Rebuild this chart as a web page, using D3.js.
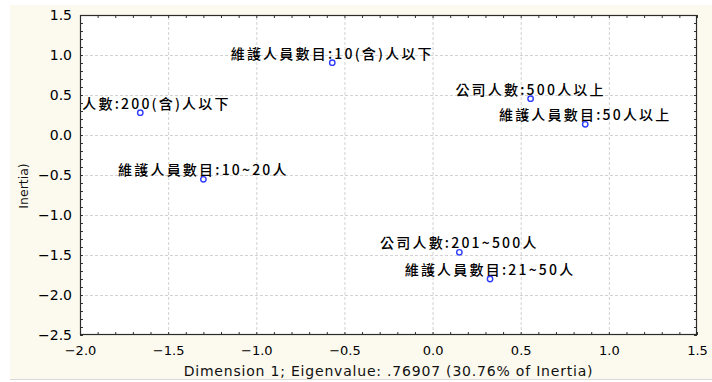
<!DOCTYPE html>
<html>
<head>
<meta charset="utf-8">
<script src="https://cdn.jsdelivr.net/npm/d3@7"></script>
<style>
  html, body { margin: 0; padding: 0; background: #ffffff; }
  svg { display: block; }
</style>
</head>
<body>
<svg id="chart" width="712" height="382"></svg>
<script>
// Correspondence analysis: category coordinates on dimensions 1 and 2
const categories = [
  "維護人員數目:10(含)人以下",
  "公司人數:200(含)人以下",
  "維護人員數目:10~20人",
  "公司人數:500人以上",
  "維護人員數目:50人以上",
  "公司人數:201~500人",
  "維護人員數目:21~50人"
];
const dim1 = [-0.569, -1.658, -1.300, 0.556, 0.866, 0.152, 0.326];
const dim2 = [0.904, 0.279, -0.554, 0.454, 0.134, -1.466, -1.800];

const xTicks = [-2.0, -1.5, -1.0, -0.5, 0.0, 0.5, 1.0, 1.5];
const yTicks = [1.5, 1.0, 0.5, 0.0, -0.5, -1.0, -1.5, -2.0, -2.5];
const xTitle = "Dimension 1; Eigenvalue: .76907 (30.76% of Inertia)";
const yTitle = "Inertia)";

const svg = d3.select("#chart");
const W = 712, H = 382;
const plot = { left: 80, top: 15, right: 697, bottom: 335 };

// page background panel
svg.append("rect")
  .attr("x", 10).attr("y", 5).attr("width", W - 10).attr("height", 374)
  .attr("fill", "#fcf9ee");
svg.append("line")
  .attr("x1", 10).attr("x2", W).attr("y1", 379.5).attr("y2", 379.5)
  .attr("stroke", "#d9d9d9");

const x = d3.scaleLinear().domain([-2.0, 1.5]).range([plot.left, plot.right]);
const y = d3.scaleLinear().domain([-2.5, 1.5]).range([plot.bottom, plot.top]);
const pw = plot.right - plot.left, ph = plot.bottom - plot.top;

svg.append("rect")
  .attr("x", plot.left).attr("y", plot.top).attr("width", pw).attr("height", ph)
  .attr("fill", "#ffffff");

// dashed grid at the major ticks
const gridX = svg.append("g")
  .attr("transform", `translate(0,${plot.bottom})`)
  .call(d3.axisBottom(x).tickValues(xTicks.slice(1, -1)).tickSize(-ph).tickFormat(""));
const gridY = svg.append("g")
  .attr("transform", `translate(${plot.left},0)`)
  .call(d3.axisLeft(y).tickValues(yTicks.slice(1, -1)).tickSize(-pw).tickFormat(""));
[gridX, gridY].forEach(g => {
  g.select(".domain").remove();
  g.selectAll(".tick line")
    .attr("stroke", "#d2d2d2").attr("stroke-width", 1).attr("stroke-dasharray", "3,2");
});

// inward minor ticks on all four sides (every 0.1)
const xMinor = d3.range(-20, 16).map(v => v / 10);
const yMinor = d3.range(-25, 16).map(v => v / 10);
const tickStyle = g => {
  g.select(".domain").remove();
  g.selectAll(".tick line").attr("stroke", "#333").attr("stroke-width", 1);
};
svg.append("g").attr("transform", `translate(0,${plot.bottom})`)
  .call(d3.axisBottom(x).tickValues(xMinor).tickSize(-3).tickFormat("")).call(tickStyle);
svg.append("g").attr("transform", `translate(0,${plot.top})`)
  .call(d3.axisTop(x).tickValues(xMinor).tickSize(-3).tickFormat("")).call(tickStyle);
svg.append("g").attr("transform", `translate(${plot.left},0)`)
  .call(d3.axisLeft(y).tickValues(yMinor).tickSize(-3).tickFormat("")).call(tickStyle);
svg.append("g").attr("transform", `translate(${plot.right},0)`)
  .call(d3.axisRight(y).tickValues(yMinor).tickSize(-3).tickFormat("")).call(tickStyle);

// frame
svg.append("rect")
  .attr("x", plot.left + 0.5).attr("y", plot.top + 0.5)
  .attr("width", pw - 1).attr("height", ph - 1)
  .attr("fill", "none").attr("stroke", "#2b2b2b").attr("stroke-width", 1.2);

// tick labels
const xLab = svg.append("g")
  .attr("transform", `translate(0,${plot.bottom})`)
  .call(d3.axisBottom(x).tickValues(xTicks).tickSize(0).tickPadding(11).tickFormat(d3.format(".1f")));
xLab.select(".domain").remove();
xLab.selectAll("text")
  .attr("font-family", "'DejaVu Sans', Verdana, sans-serif")
  .attr("font-size", 13).attr("fill", "#000");

const yLab = svg.append("g")
  .attr("transform", `translate(${plot.left},0)`)
  .call(d3.axisLeft(y).tickValues(yTicks).tickSize(0).tickPadding(8).tickFormat(d3.format(".1f")));
yLab.select(".domain").remove();
yLab.selectAll("text")
  .attr("font-family", "'DejaVu Sans', Verdana, sans-serif")
  .attr("font-size", 14).attr("fill", "#000");

// axis titles
svg.append("text")
  .attr("x", (plot.left + plot.right) / 2).attr("y", 376)
  .attr("text-anchor", "middle")
  .attr("font-family", "'DejaVu Sans', Verdana, sans-serif")
  .attr("font-size", 14).attr("letter-spacing", 0.8).attr("fill", "#111")
  .text(xTitle);
svg.append("text")
  .attr("transform", "translate(28,186) rotate(-90)")
  .attr("text-anchor", "middle")
  .attr("font-family", "'DejaVu Sans', Verdana, sans-serif")
  .attr("font-size", 12.5).attr("fill", "#111")
  .text(yTitle);

// points and labels, clipped to the plot area
svg.append("clipPath").attr("id", "plotClip")
  .append("rect").attr("x", plot.left).attr("y", plot.top).attr("width", pw).attr("height", ph);

const pts = categories.map((c, i) => ({ name: c, d1: dim1[i], d2: dim2[i] }));
const layer = svg.append("g").attr("clip-path", "url(#plotClip)");

layer.selectAll("text.lbl").data(pts).join("text")
  .attr("class", "lbl")
  .attr("x", d => x(d.d1))
  .attr("y", d => y(d.d2) - 4)
  .attr("text-anchor", "middle")
  .attr("font-family", "'Noto Sans CJK TC', 'Noto Sans CJK SC', sans-serif")
  .attr("font-size", 14)
  .attr("font-weight", 500)
  .attr("letter-spacing", 2.2)
  .attr("fill", "#000")
  .text(d => d.name);

layer.selectAll("circle").data(pts).join("circle")
  .attr("cx", d => x(d.d1))
  .attr("cy", d => y(d.d2))
  .attr("r", 2.7)
  .attr("fill", "none")
  .attr("stroke", "#2f3cff")
  .attr("stroke-width", 1.4);
</script>
</body>
</html>
